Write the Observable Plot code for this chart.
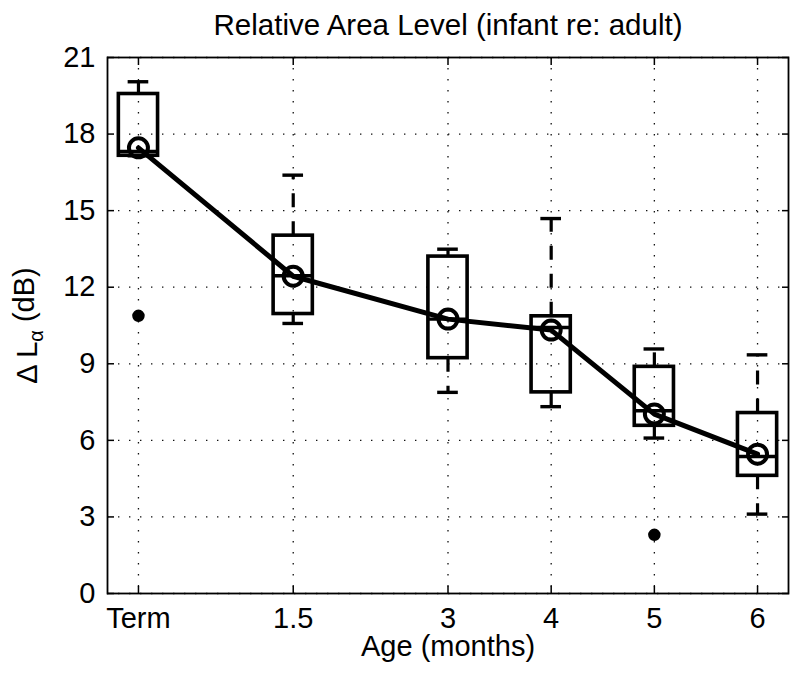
<!DOCTYPE html>
<html>
<head>
<meta charset="utf-8">
<script src="https://cdn.jsdelivr.net/npm/d3@7"></script>
<script src="https://cdn.jsdelivr.net/npm/@observablehq/plot@0.6"></script>
<style>
  html, body { margin: 0; padding: 0; background: #fff; }
  #chart { width: 800px; height: 676px; }
</style>
</head>
<body>
<div id="chart"></div>
<script>
// ---- Data ----
const ages = [0, 1.5, 3, 4, 5, 6];
const ageLabels = ["Term", "1.5", "3", "4", "5", "6"];
const lowerWhisker = [17.15, 10.58, 7.88, 7.32, 6.09, 3.11];
const q1 = [17.15, 10.95, 9.22, 7.88, 6.57, 4.61];
const medians = [17.32, 12.45, 10.75, 10.42, 7.16, 5.37];
const q3 = [19.57, 14.02, 13.20, 10.86, 8.88, 7.07];
const upperWhisker = [20.05, 16.39, 13.49, 14.69, 9.58, 9.35];
const means = [17.46, 12.43, 10.75, 10.32, 7.03, 5.46];
const outlierAges = [0, 5];
const outlierValues = [10.88, 2.30];
const yTicks = [0, 3, 6, 9, 12, 15, 18, 21];

const titleText = "Relative Area Level (infant re: adult)";
const xLabelText = "Age (months)";
const yLabelText = "Δ Lα (dB)";

// ---- Tables built from the arrays ----
const boxes = ages.map((a, i) => ({
  age: a, lo: lowerWhisker[i], q1: q1[i], med: medians[i], q3: q3[i], hi: upperWhisker[i], mean: means[i]
}));
const outliers = outlierAges.map((a, i) => ({age: a, value: outlierValues[i]}));

const boxHalf = 0.19;   // half box width (style)
const capHalf = 0.10;   // half whisker-cap width (style)
const font = "Helvetica, Arial, 'Liberation Sans', sans-serif";
const dotted = {stroke: "#111", strokeOpacity: 1, strokeWidth: 1.3, strokeDasharray: "1.4,9.6"};

const chart = Plot.plot({
  width: 800,
  height: 676,
  marginLeft: 107,
  marginRight: 12,
  marginTop: 57,
  marginBottom: 83,
  style: {fontFamily: font, fontSize: "29px", color: "black", background: "white", overflow: "visible"},
  x: {domain: [-0.3, 6.3], axis: null},
  y: {domain: [0, 21], axis: null},
  marks: [
    // dotted grid
    Plot.gridX(ages, dotted),
    Plot.gridY(yTicks, dotted),
    // whiskers (dashed)
    Plot.ruleX(boxes, {x: "age", y1: "q3", y2: "hi", stroke: "black", strokeWidth: 3.2, strokeDasharray: "14,14"}),
    Plot.ruleX(boxes, {x: "age", y1: "q1", y2: "lo", stroke: "black", strokeWidth: 3.2, strokeDasharray: "14,14"}),
    // caps
    Plot.ruleY(boxes, {y: "hi", x1: d => d.age - capHalf, x2: d => d.age + capHalf, stroke: "black", strokeWidth: 3.4}),
    Plot.ruleY(boxes, {y: "lo", x1: d => d.age - capHalf, x2: d => d.age + capHalf, stroke: "black", strokeWidth: 3.4}),
    // boxes
    Plot.rect(boxes, {x1: d => d.age - boxHalf, x2: d => d.age + boxHalf, y1: "q1", y2: "q3", fill: "none", stroke: "black", strokeWidth: 3.6}),
    // medians
    Plot.ruleY(boxes, {y: "med", x1: d => d.age - boxHalf, x2: d => d.age + boxHalf, stroke: "black", strokeWidth: 3.4}),
    // outliers
    Plot.dot(outliers, {x: "age", y: "value", r: 5.5, fill: "black", stroke: "black"}),
    // mean line and circles
    Plot.line(boxes, {x: "age", y: "mean", stroke: "black", strokeWidth: 5}),
    Plot.dot(boxes, {x: "age", y: "mean", r: 9.5, fill: "none", stroke: "black", strokeWidth: 4}),
    // frame
    Plot.frame({stroke: "black", strokeWidth: 1.8}),
    // inward ticks on all four sides
    Plot.axisX(ages, {anchor: "bottom", tickSize: -7, strokeWidth: 1.5, fill: "none", label: null}),
    Plot.axisX(ages, {anchor: "top", tickSize: -7, strokeWidth: 1.5, fill: "none", label: null}),
    Plot.axisY(yTicks, {anchor: "left", tickSize: -7, strokeWidth: 1.5, fill: "none", label: null}),
    Plot.axisY(yTicks, {anchor: "right", tickSize: -7, strokeWidth: 1.5, fill: "none", label: null}),
    // tick labels
    Plot.axisX(ages, {anchor: "bottom", tickSize: 0, tickPadding: 14, fontSize: 29,
      tickFormat: d => ageLabels[ages.indexOf(d)], label: null}),
    Plot.axisY(yTicks, {anchor: "left", tickSize: 0, tickPadding: 12, fontSize: 29, label: null}),
    // title and axis labels
    Plot.text([titleText], {text: d => d, frameAnchor: "top", lineAnchor: "middle", textAnchor: "middle", dy: -32, fontSize: 29.5}),
    Plot.text([xLabelText], {text: d => d, frameAnchor: "bottom", lineAnchor: "middle", textAnchor: "middle", dy: 53, fontSize: 29}),
    Plot.text([yLabelText], {text: d => d, frameAnchor: "left", lineAnchor: "middle", textAnchor: "middle", dx: -80, rotate: -90, fontSize: 29})
  ]
});
document.getElementById("chart").appendChild(chart);

// subscript alpha in y label
d3.select(chart).selectAll("text").each(function() {
  const t = d3.select(this);
  if (t.text() === yLabelText) {
    t.text(null);
    t.append("tspan").text("Δ L");
    t.append("tspan").text("α").attr("font-size", "20px").attr("dy", "0.3em");
    t.append("tspan").text(" (dB)").attr("dy", "-0.3em").attr("font-size", "29px");
  }
});
</script>
</body>
</html>
